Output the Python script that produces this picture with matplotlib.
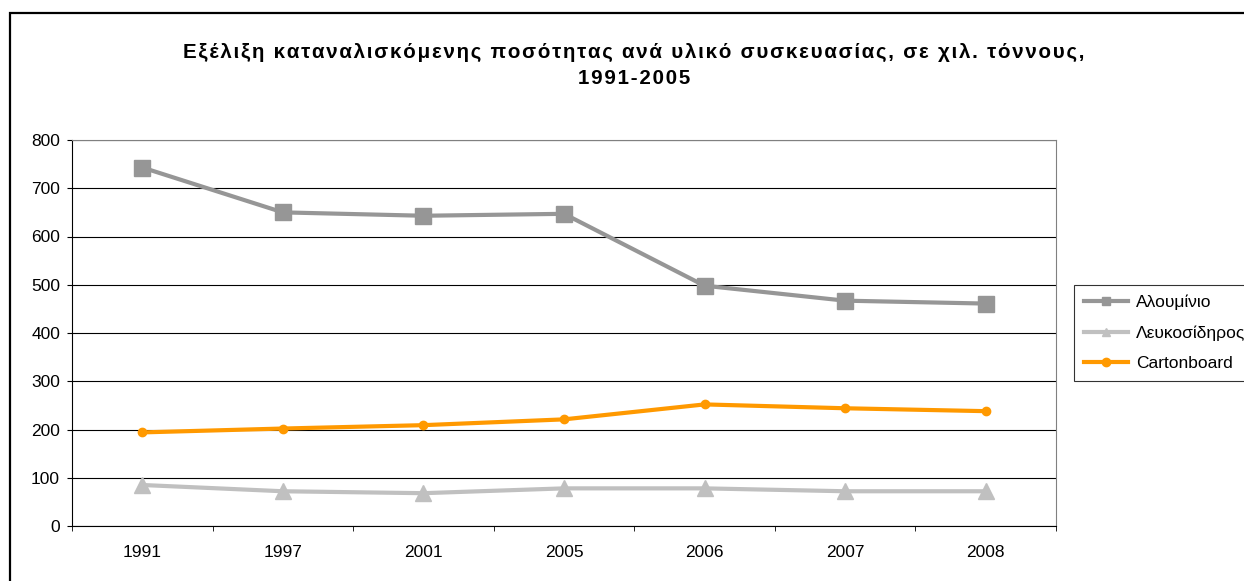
import numpy as np
import matplotlib
matplotlib.use('Agg')
import matplotlib.pyplot as plt
from matplotlib.patches import Rectangle

plt.rcParams['font.family'] = ['Liberation Sans', 'DejaVu Sans']

years = ['1991', '1997', '2001', '2005', '2006', '2007', '2008']
aluminium = [743, 650, 643, 647, 498, 467, 461]
tinplate = [85, 72, 68, 78, 78, 72, 72]
cartonboard = [194, 202, 209, 221, 252, 244, 238]
series_names = ['Αλουμίνιο', 'Λευκοσίδηρος', 'Cartonboard']
title_lines = ['Εξέλιξη καταναλισκόμενης ποσότητας ανά υλικό συσκευασίας, σε χιλ. τόννους,',
               '1991-2005']


def spaced(s):
    # the original title has wide letter spacing
    return '\u200a'.join(s)


def main():
    fig = plt.figure(figsize=(12.44, 5.81), dpi=100)
    ax = fig.add_axes([72 / 1244, 1 - 526 / 581, (1056 - 72) / 1244, (526 - 140) / 581])

    x = np.arange(len(years))
    ax.plot(x, aluminium, color='#969696', lw=3, marker='s', ms=11, label=series_names[0])
    ax.plot(x, tinplate, color='#c0c0c0', lw=3, marker='^', ms=12, label=series_names[1])
    ax.plot(x, cartonboard, color='#ff9900', lw=3, marker='o', ms=6, label=series_names[2])

    ax.set_xlim(-0.5, len(years) - 0.5)
    ax.set_ylim(0, 800)
    ax.set_yticks(np.arange(0, 801, 100))
    ax.set_xticks(x)
    ax.set_xticklabels(years)
    ax.set_xticks(np.arange(-0.5, len(years)), minor=True)
    ax.tick_params(axis='x', which='major', length=0, pad=14, labelsize=12.5)
    ax.tick_params(axis='x', which='minor', length=3.6, direction='out', color='black')
    ax.tick_params(axis='y', length=3.6, direction='out', labelsize=12.5, pad=5)
    ax.yaxis.grid(True, color='black', lw=0.8)
    ax.set_axisbelow(True)
    ax.spines['top'].set_color('#808080')
    ax.spines['right'].set_color('#808080')
    ax.spines['left'].set_color('black')
    ax.spines['bottom'].set_color('black')

    fig.text(634 / 1244, 1 - 52 / 581, spaced(title_lines[0]), ha='center', va='center',
             fontsize=14.8, fontweight='bold')
    fig.text(634 / 1244, 1 - 79 / 581, spaced(title_lines[1]), ha='center', va='center',
             fontsize=14.8, fontweight='bold')

    leg = ax.legend(loc='upper left', bbox_to_anchor=(1074 / 1244, 1 - 285 / 581),
                    bbox_transform=fig.transFigure, frameon=True, fancybox=False,
                    fontsize=12.5, handlelength=2.55, handletextpad=0.45,
                    borderpad=0.55, labelspacing=0.885, borderaxespad=0)
    leg.get_frame().set_edgecolor('black')
    leg.get_frame().set_linewidth(0.8)
    for h in leg.legend_handles:
        h.set_markersize(6)

    fig.patches.append(Rectangle((10 / 1244, -0.1), 1.2, 1.1 - 13 / 581, transform=fig.transFigure,
                                 fill=False, edgecolor='black', lw=1.6))

    fig.savefig('out.png', dpi=100)


if __name__ == '__main__':
    main()
